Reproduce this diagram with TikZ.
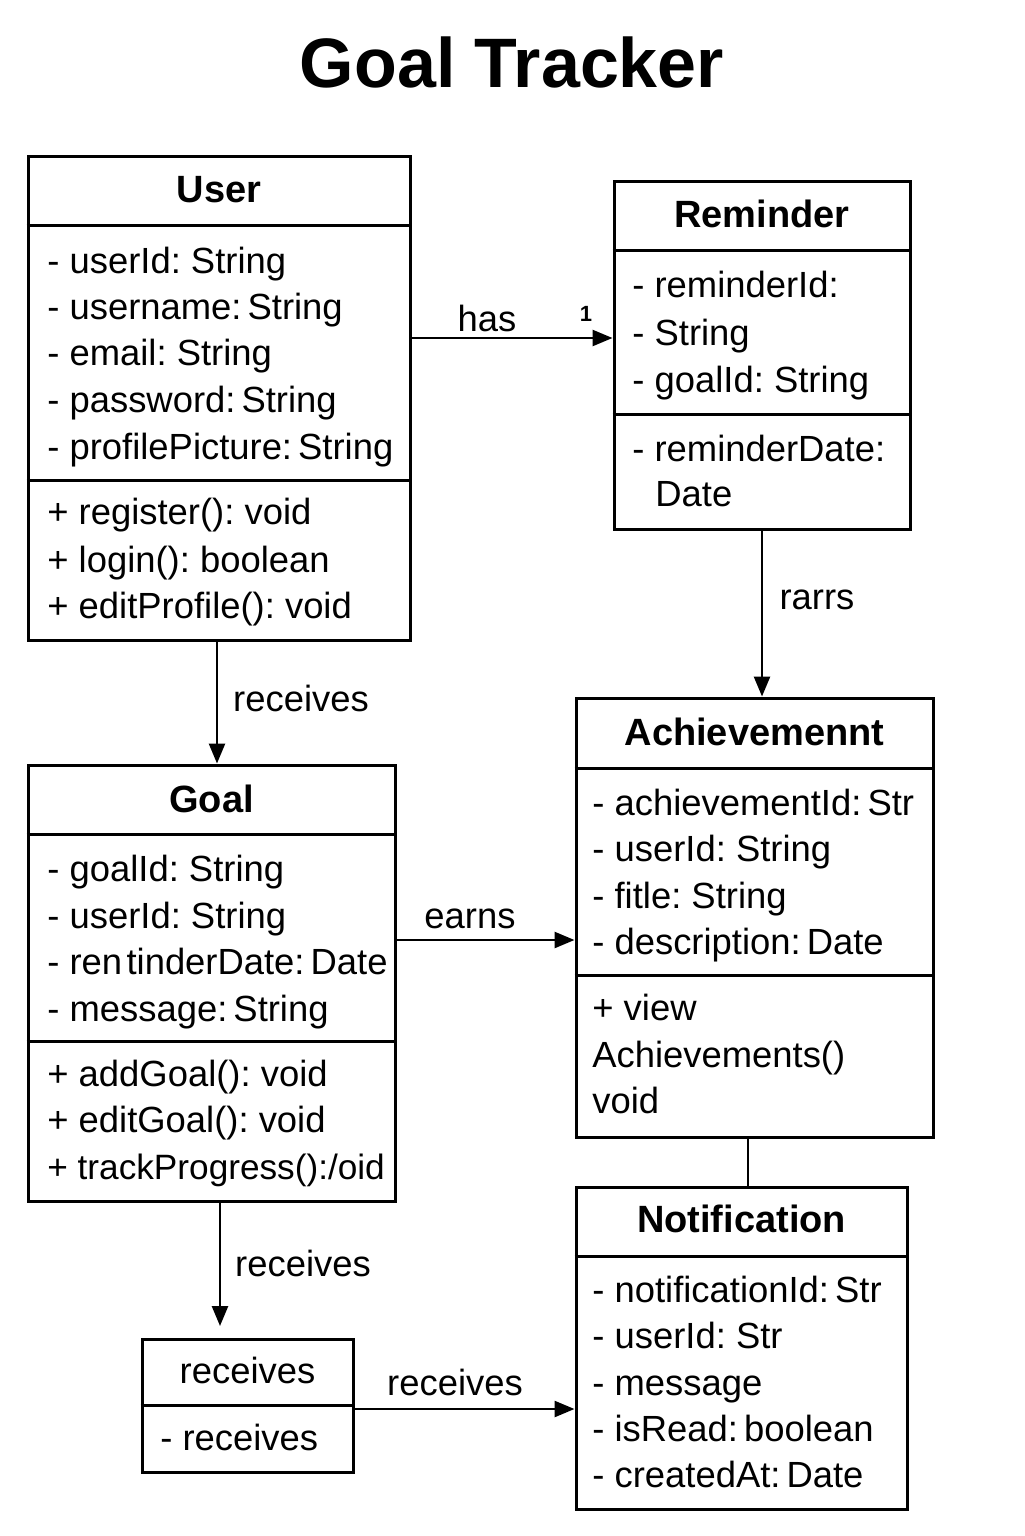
\documentclass[tikz,border=0pt]{standalone}
\usepackage{fontspec}
\setmainfont{Liberation Sans}
\frenchspacing
\usetikzlibrary{arrows.meta,fit}
\begin{document}
\begin{tikzpicture}[x=0.5pt,y=-0.5pt,
  box/.style={draw,line width=1.5pt,inner sep=0pt,fit={#1}},
  sep/.style={line width=1.5pt},
  txt/.style={font=\fontsize{18.2}{22}\selectfont,inner sep=0pt,anchor=west,text height=1.12em,text depth=0em},
  hdr/.style={font=\bfseries\fontsize{19}{23}\selectfont,inner sep=0pt,text height=1.12em,text depth=0em},
  lbl/.style={font=\fontsize{18.2}{22}\selectfont,inner sep=0pt,text height=1.12em,text depth=0em},
  arr/.style={line width=1.3pt,-{Triangle[length=10pt,width=8pt]}},
  con/.style={line width=1.3pt}]
\useasboundingbox (0,0) rectangle (1024,1536);

% Title
\node[font=\bfseries\fontsize{35}{40}\selectfont,inner sep=0pt] (title) at (512,62) {Goal Tracker};

% User
\node[box={(28,156) (410,640)}] (user) {};
\draw[sep] (user.west |- 0,225) -- (user.east |- 0,225);
\draw[sep] (user.west |- 0,480) -- (user.east |- 0,480);
\node[hdr] (userT) at (219,191) {User};
\node[txt] (u1) at (47,262) {- userId: String};
\node[txt] (u2) at (47,308) {- username:\,String};
\node[txt] (u3) at (47,354) {- email: String};
\node[txt] (u4) at (47,401) {- password:\,String};
\node[txt] (u5) at (47,448) {- profilePicture:\,String};
\node[txt] (u6) at (47,513) {+ register(): void};
\node[txt] (u7) at (47,561) {+ login(): boolean};
\node[txt] (u8) at (47,607) {+ editProfile(): void};

% Reminder
\node[box={(614,181) (910,529)}] (rem) {};
\draw[sep] (rem.west |- 0,250) -- (rem.east |- 0,250);
\draw[sep] (rem.west |- 0,414) -- (rem.east |- 0,414);
\node[hdr] (remT) at (762,216) {Reminder};
\node[txt] (r1) at (632,286) {- reminderId:};
\node[txt] (r2) at (632,334) {- String};
\node[txt] (r3) at (632,381) {- goalId: String};
\node[txt] (r4) at (632,450) {- reminderDate:};
\node[txt] (r5) at (655,495) {Date};

% Achievement
\node[box={(576,698) (933,1137)}] (ach) {};
\draw[sep] (ach.west |- 0,768) -- (ach.east |- 0,768);
\draw[sep] (ach.west |- 0,975) -- (ach.east |- 0,975);
\node[hdr] (achT) at (754.5,734) {Achievemennt};
\node[txt] (a1) at (592,804) {- achievementId:\,Str};
\node[txt] (a2) at (592,850) {- userId: String};
\node[txt] (a3) at (592,897) {- fitle: String};
\node[txt] (a4) at (592,943) {- description:\,Date};
\node[txt] (a5) at (592,1009) {+ view};
\node[txt] (a6) at (592,1056) {Achievements()};
\node[txt] (a7) at (592,1102) {void};

% Goal
\node[box={(28,765) (395,1201)}] (goal) {};
\draw[sep] (goal.west |- 0,834) -- (goal.east |- 0,834);
\draw[sep] (goal.west |- 0,1041) -- (goal.east |- 0,1041);
\node[hdr] (goalT) at (211.5,801) {Goal};
\node[txt] (g1) at (47,870) {- goalId: String};
\node[txt] (g2) at (47,917) {- userId: String};
\node[txt] (g3) at (47,963) {- ren\hspace{0.12em}tinderDate:\,Date};
\node[txt] (g4) at (47,1010) {- message:\,String};
\node[txt] (g5) at (47,1075) {+ addGoal(): void};
\node[txt] (g6) at (47,1121) {+ editGoal(): void};
\node[txt,font=\fontsize{17.6}{22}\selectfont] (g7) at (47,1168) {+ trackProgress():/oid};

% Notification
\node[box={(576,1187) (907,1509)}] (notif) {};
\draw[sep] (notif.west |- 0,1256) -- (notif.east |- 0,1256);
\node[hdr] (notifT) at (741.5,1221) {Notification};
\node[txt] (n1) at (592,1291) {- notificationId:\,Str};
\node[txt] (n2) at (592,1337) {- userId: Str};
\node[txt] (n3) at (592,1384) {- message};
\node[txt] (n4) at (592,1430) {- isRead:\,boolean};
\node[txt] (n5) at (592,1476) {- createdAt:\,Date};

% receives box
\node[box={(142,1339) (353,1472)}] (recv) {};
\draw[sep] (recv.west |- 0,1405) -- (recv.east |- 0,1405);
\node[lbl] (recvT) at (247.5,1372) {receives};
\node[txt] (rv1) at (160,1439) {- receives};

% Connectors
\draw[arr] (user.east |- 0,338) -- (rem.west |- 0,338);
\node[lbl] (lhas) at (487,320) {has};
\node[font=\bfseries\fontsize{11}{13}\selectfont,inner sep=0pt] (lone) at (586,314) {1};

\draw[arr] (user.south -| 217,0) -- (goal.north -| 217,0);
\node[lbl] (lrec1) at (301,700) {receives};

\draw[arr] (rem.south -| 762,0) -- (ach.north -| 762,0);
\node[lbl] (lrarrs) at (817,598) {rarrs};

\draw[arr] (goal.east |- 0,940) -- (ach.west |- 0,940);
\node[lbl] (learns) at (470,917) {earns};

\draw[con] (ach.south -| 748,0) -- (notif.north -| 748,0);

\coordinate (gend) at (220,1326);
\draw[arr] (goal.south -| gend) -- (gend);
\node[lbl] (lrec2) at (303,1265) {receives};

\draw[arr] (recv.east |- 0,1409) -- (notif.west |- 0,1409);
\node[lbl] (lrec3) at (455,1384) {receives};
\end{tikzpicture}
\end{document}
